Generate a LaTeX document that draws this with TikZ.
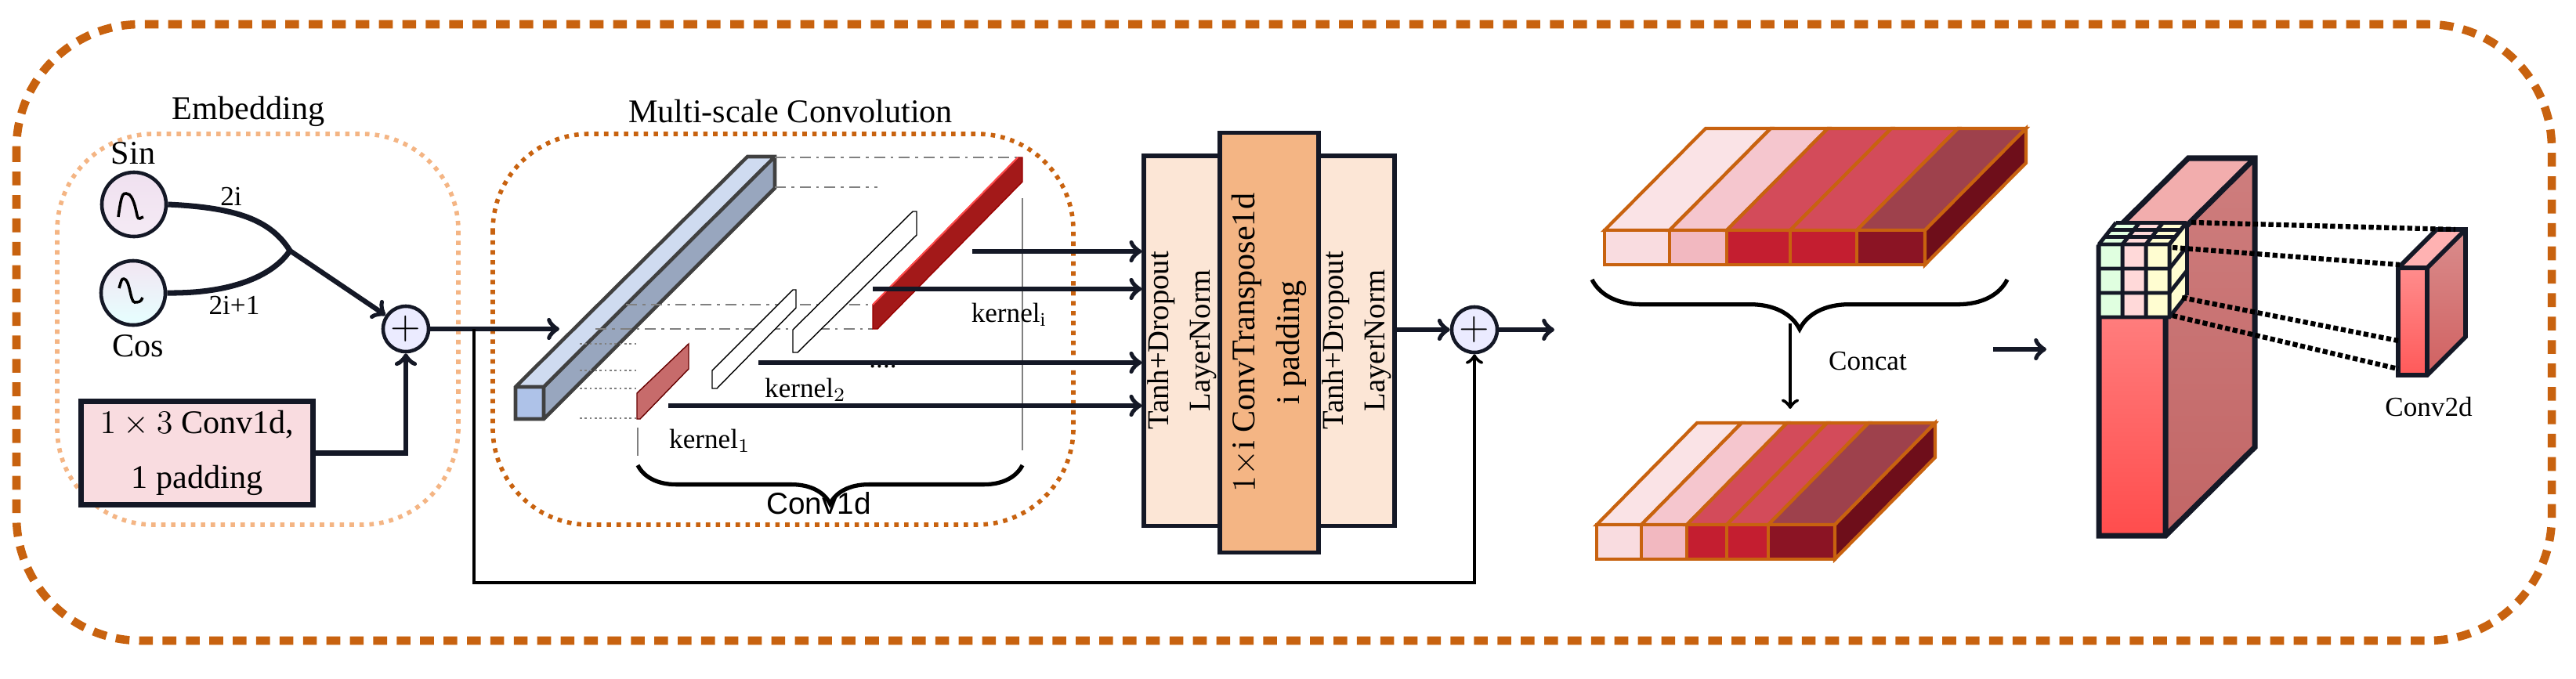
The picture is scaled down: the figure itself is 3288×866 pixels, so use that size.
\documentclass[tikz,border=0pt]{standalone}
\usepackage{fontspec}
\setmainfont{Liberation Serif}
\newfontfamily\sansf{Liberation Sans}
\usetikzlibrary{decorations.pathreplacing}
\definecolor{frameor}{HTML}{C8620F}
\definecolor{lightor}{HTML}{F4B584}
\definecolor{panel}{HTML}{FCE6D6}
\definecolor{inkdark}{HTML}{141826}
\definecolor{bartop}{HTML}{CFDBF0}
\definecolor{barside}{HTML}{98A6BE}
\definecolor{barfront}{HTML}{AEC2E8}
\definecolor{sA}{HTML}{F9DCE0}\definecolor{tA}{HTML}{FAE3E6}
\definecolor{sB}{HTML}{F2B8C0}\definecolor{tB}{HTML}{F5C6CE}
\definecolor{sC}{HTML}{C41E30}\definecolor{tC}{HTML}{D34B5A}
\definecolor{sD}{HTML}{8B1424}\definecolor{tD}{HTML}{9E414C}
\definecolor{sideD}{HTML}{6E0E1A}
\begin{document}
\begin{tikzpicture}[x=0.01cm,y=-0.01cm]
	 \tikzstyle{frame} = [draw=frameor, line width=3pt, dash pattern=on 5pt off 3.5pt, rounded corners=45pt]
	 \tikzstyle{group} = [draw, line width=1.6pt, dotted, rounded corners=35pt]
	 \tikzstyle{plus} = [circle, draw=inkdark, line width=1.3pt, minimum size=0.58cm, inner sep=0pt, fill=blue!8, font=\Large]
	 \tikzstyle{flow} = [draw=inkdark, line width=1.8pt, ->]
	 \tikzstyle{thin flow} = [draw=black, line width=1pt, ->]
	 \tikzstyle{dashdot} = [draw=gray, line width=0.8pt, dash pattern=on 4pt off 2pt on 1pt off 2pt]
	 \tikzstyle{slab} = [draw=frameor, line width=1.2pt]
	 \tikzstyle{cube} = [draw=inkdark, line width=2pt]
	 \tikzstyle{lbl} = [font=\fontsize{10}{12}\selectfont, inner sep=1pt]
	 \tikzstyle{panelbox} = [draw=inkdark, line width=1.5pt, inner sep=0pt]
	 \tikzstyle{vtext} = [rotate=90, align=center, font=\fontsize{11}{15}\selectfont]
	 \useasboundingbox (0,0) rectangle (3288,866);
	 % frames
	 \draw[frame] (21,31) rectangle (3257,818);
	 \draw[group, draw=lightor] (73,171) rectangle (585,670);
	 \draw[group, draw=frameor] (629,171) rectangle (1370,670);
	 \node[font=\fontsize{12}{14}\selectfont] (embt) at (317,142) {Embedding};
	 \node[font=\fontsize{12}{14}\selectfont] (msct) at (1009,142) {Multi-scale Convolution};
	 % embedding
	 \node[circle, draw=inkdark, line width=1.3pt, minimum size=0.82cm, inner sep=0pt, top color=violet!12, bottom color=violet!8] (sin) at (171,261) {};
	 \node[circle, draw=inkdark, line width=1.3pt, minimum size=0.82cm, inner sep=0pt, top color=violet!10, bottom color=cyan!10] (cos) at (170,374) {};
	 \draw[line width=1pt] (sin.center) ++(-20,16) .. controls +(4,-30) and +(-4,0) .. ++(10,-30) .. controls +(6,0) and +(-4,-20) .. ++(14,28) .. controls +(2,8) and +(-3,0) .. ++(8,2);
	 \draw[line width=1pt] (cos.center) ++(-18,-6) .. controls +(3,-10) and +(-3,0) .. ++(6,-12) .. controls +(8,0) and +(-6,0) .. ++(14,30) .. controls +(4,0) and +(-2,6) .. ++(10,-6);
	 \node[font=\fontsize{12}{14}\selectfont] (sint) at (170,196) {Sin};
	 \node[font=\fontsize{12}{14}\selectfont] (cost) at (176,442) {Cos};
	 \coordinate (j) at (370,320);
	 \draw[line width=2pt, draw=inkdark] (sin.east) .. controls (300,265) and (345,280) .. (j);
	 \draw[line width=2pt, draw=inkdark] (cos.east) .. controls (300,375) and (350,350) .. (j);
	 \node[plus] (p1) at (518,420) {$+$};
	 \draw[flow] (j) -- (p1);
	 \node[lbl] (lab2i) at (295,251) {2i};
	 \node[lbl] (lab2i1) at (299,390) {2i+1};
	 \node[draw=inkdark, line width=2pt, fill=sA, minimum width=2.95cm, minimum height=1.29cm, align=center, font=\fontsize{12}{20}\selectfont] (conv) at (251.5,578.5) {$1\times3$ Conv1d,\\1 padding};
	 \draw[flow] (conv.east) -| (p1.south);
	 % multi-scale convolution
	 \fill[barside] (694,494) -- (989,200) -- (989,240) -- (694,535) -- cycle;
	 \fill[bartop] (658,494) -- (954,200) -- (989,200) -- (694,494) -- cycle;
	 \fill[barfront] (658,494) rectangle (694,535);
	 \draw[draw=darkgray, line width=1.3pt] (658,494) -- (954,200) -- (989,200) -- (989,240) -- (694,535) -- (658,535) -- cycle (658,494) -- (694,494) -- (989,200) (694,494) -- (694,535);
	 \coordinate (blueA) at (989,201);
	 \coordinate (blueB) at (989,239);
	 \coordinate (redA) at (1305,201);
	 \coordinate (redB) at (1305,232);
	 \draw[dashdot] (blueA) -- (redA);
	 \draw[dashdot] (blueB) -- (1120,239);
	 \draw[dashdot] (799,389) -- (1114,389);
	 \draw[dashdot] (760,420) -- (1114,420);
	 \foreach \y in {439,473,496,534}
	   \draw[gray, densely dotted, line width=0.8pt] (740,\y) -- (815,\y);
	 \fill[red!60!black!90, draw=red!60!black] (1114,389) -- (1299,201) -- (1305,201) -- (1305,232) -- (1120,420) -- (1114,420) -- cycle;
	 \draw[red!70, line width=0.6pt] (1114,389) -- (1299,201);
	 \fill[red!45!gray!80, draw=red!40!black] (813,502) -- (879,439) -- (879,471) -- (817,535) -- (813,535) -- cycle;
	 \draw[black, line width=0.4pt, fill=white] (909,473) -- (1012,370) -- (1016,370) -- (1016,393) -- (915,496) -- (909,496) -- cycle;
	 \draw[black, line width=0.4pt, fill=white] (1012,421) -- (1165,270) -- (1170,270) -- (1170,300) -- (1018,450) -- (1012,450) -- cycle;
	 \draw[gray, line width=0.6pt] (814,546) -- (814,582);
	 \draw[gray, line width=0.6pt] (1305,253) -- (1305,575);
	 \draw[decorate, decoration={brace, mirror, amplitude=14pt}, line width=1.5pt] (814,594) -- (1305,594);
	 \node[font=\sansf\fontsize{11}{13}\selectfont] (c1dt) at (1045,643) {Conv1d};
	 \node[lbl] (ki) at (1288,402) {kernel$_\mathrm{i}$};
	 \node[lbl] (k2) at (1028,498) {kernel$_2$};
	 \node[lbl] (k1) at (906,563) {kernel$_1$};
	 \node[lbl] (dots) at (1127,468) {....};
	 % transpose block
	 \node[panelbox, fill=panel, minimum width=0.97cm, minimum height=4.72cm] (ln1) at (1508.5,435) {};
	 \node[panelbox, fill=panel, minimum width=0.97cm, minimum height=4.72cm] (ln2) at (1731.5,435) {};
	 \node[panelbox, fill=lightor, minimum width=1.26cm, minimum height=5.35cm] (tconv) at (1620,437.5) {};
	 \node[vtext] (ln1t) at (ln1) {Tanh+Dropout\\LayerNorm};
	 \node[vtext, font=\fontsize{12}{16}\selectfont] (tct) at (tconv) {$1\times$i ConvTranspose1d\\i padding};
	 \node[vtext] (ln2t) at (ln2) {Tanh+Dropout\\LayerNorm};
	 \coordinate (srcA) at (1241,321);
	 \coordinate (srcB) at (1114,369);
	 \coordinate (srcC) at (968,463);
	 \coordinate (srcD) at (853,518);
	 \draw[flow] (srcA) -- (ln1.west |- srcA);
	 \draw[flow] (srcB) -- (ln1.west |- srcB);
	 \draw[flow] (srcC) -- (ln1.west |- srcC);
	 \draw[flow] (srcD) -- (ln1.west |- srcD);
	 \draw[flow] (p1.east) -- (714,420);
	 \node[plus] (p2) at (1882,421) {$+$};
	 \coordinate (br) at (605,420);
	 \draw[thin flow, line width=1.3pt] (br) |- (1882,744) -- (p2.south);
	 \draw[flow] (ln2.east |- p2) -- (p2.west);
	 \coordinate (out2) at (1984,421);
	 \draw[flow] (p2.east) -- (out2);
	 % slabs
	 \foreach \a/\b/\cf/\ct in {2048/2131/sA/tA, 2131/2204/sB/tB, 2204/2285/sC/tC, 2285/2370/sC/tC, 2370/2457/sD/tD} {
	   \draw[slab, fill=\ct] (\a,294) -- (\b,294) -- (\b+129,164) -- (\a+129,164) -- cycle;
	   \draw[slab, fill=\cf] (\a,294) rectangle (\b,338);
	 }
	 \draw[slab, fill=sideD] (2457,294) -- (2586,164) -- (2586,208) -- (2457,338) -- cycle;
	 \foreach \a/\b/\cf/\ct in {2038/2095/sA/tA, 2095/2153/sB/tB, 2153/2204/sC/tC, 2204/2257/sC/tC, 2257/2342/sD/tD} {
	   \draw[slab, fill=\ct] (\a,670) -- (\b,670) -- (\b+128,540) -- (\a+128,540) -- cycle;
	   \draw[slab, fill=\cf] (\a,670) rectangle (\b,714);
	 }
	 \draw[slab, fill=sideD] (2342,670) -- (2470,540) -- (2470,584) -- (2342,714) -- cycle;
	 \draw[decorate, decoration={brace, mirror, amplitude=18pt}, line width=1.5pt] (2032,357) -- (2562,357);
	 \coordinate (catA) at (2285,413);
	 \coordinate (catB) at (2285,522);
	 \draw[thin flow, line width=1.3pt] (catA) -- (catB);
	 \node[font=\fontsize{10}{12}\selectfont] (catt) at (2384,461) {Concat};
	 \coordinate (goA) at (2544,446);
	 \coordinate (goB) at (2612,446);
	 \draw[flow] (goA) -- (goB);
	 % feature map
	 \shade[top color=red!45!gray!70, bottom color=red!60!black!60] (2764,315) -- (2878,202) -- (2878,571) -- (2764,684) -- cycle;
	 \fill[red!30!white!90!gray] (2679,315) -- (2793,202) -- (2878,202) -- (2764,315) -- cycle;
	 \shade[top color=red!45, bottom color=red!70!white] (2679,315) rectangle (2764,684);
	 \draw[cube] (2679,315) -- (2793,202) -- (2878,202) -- (2878,571) -- (2764,684) -- (2679,684) -- cycle (2679,315) -- (2764,315) -- (2878,202) (2764,315) -- (2764,684);
	 \foreach \i/\c in {0/green!12, 1/red!15, 2/yellow!18} {
	   \fill[\c] (2679+\i*30,312) rectangle (2709+\i*30,405);
	   \fill[\c] (2679+\i*30,312) -- (2709+\i*30,312) -- (2731+\i*30,284) -- (2701+\i*30,284) -- cycle;
	 }
	 \fill[yellow!18] (2769,312) -- (2791,284) -- (2791,377) -- (2769,405) -- cycle;
	 \foreach \i in {0,1,2,3} {
	   \draw[inkdark, line width=1.4pt] (2679+\i*30,312) -- (2679+\i*30,405) (2679+\i*30,312) -- (2701+\i*30,284);
	   \draw[inkdark, line width=1.4pt] (2679,312+\i*31) -- (2769,312+\i*31) -- (2791,284+\i*31);
	   \draw[inkdark, line width=1.4pt] (2679+\i*7.3,312-\i*9.3) -- (2769+\i*7.3,312-\i*9.3);
	 }
	 \draw[inkdark, line width=1.4pt] (2791,284) -- (2791,377);
	 \coordinate (gA) at (2797,284);
	 \coordinate (gB) at (2773,316);
	 \coordinate (gC) at (2785,380);
	 \coordinate (gD) at (2773,403);
	 \shade[top color=red!50!gray!60, bottom color=red!55!gray!80] (3098,342) -- (3147,293) -- (3147,430) -- (3098,479) -- cycle;
	 \fill[red!30] (3061,342) -- (3110,293) -- (3147,293) -- (3098,342) -- cycle;
	 \shade[top color=red!45, bottom color=red!65] (3061,342) rectangle (3098,479);
	 \draw[cube, line width=1.6pt] (3061,342) -- (3110,293) -- (3147,293) -- (3147,430) -- (3098,479) -- (3061,479) -- cycle (3061,342) -- (3098,342) -- (3147,293) (3098,342) -- (3098,479);
	 \coordinate (kA) at (3134,293);
	 \coordinate (kB) at (3063,338);
	 \coordinate (kC) at (3061,435);
	 \coordinate (kD) at (3061,471);
	 \draw[densely dotted, line width=1.8pt] (gA) -- (kA) (gB) -- (kB) (gC) -- (kC) (gD) -- (kD);
	 \node[font=\fontsize{10}{12}\selectfont] (c2dt) at (3100,519) {Conv2d};
 \end{tikzpicture}
\end{document}
